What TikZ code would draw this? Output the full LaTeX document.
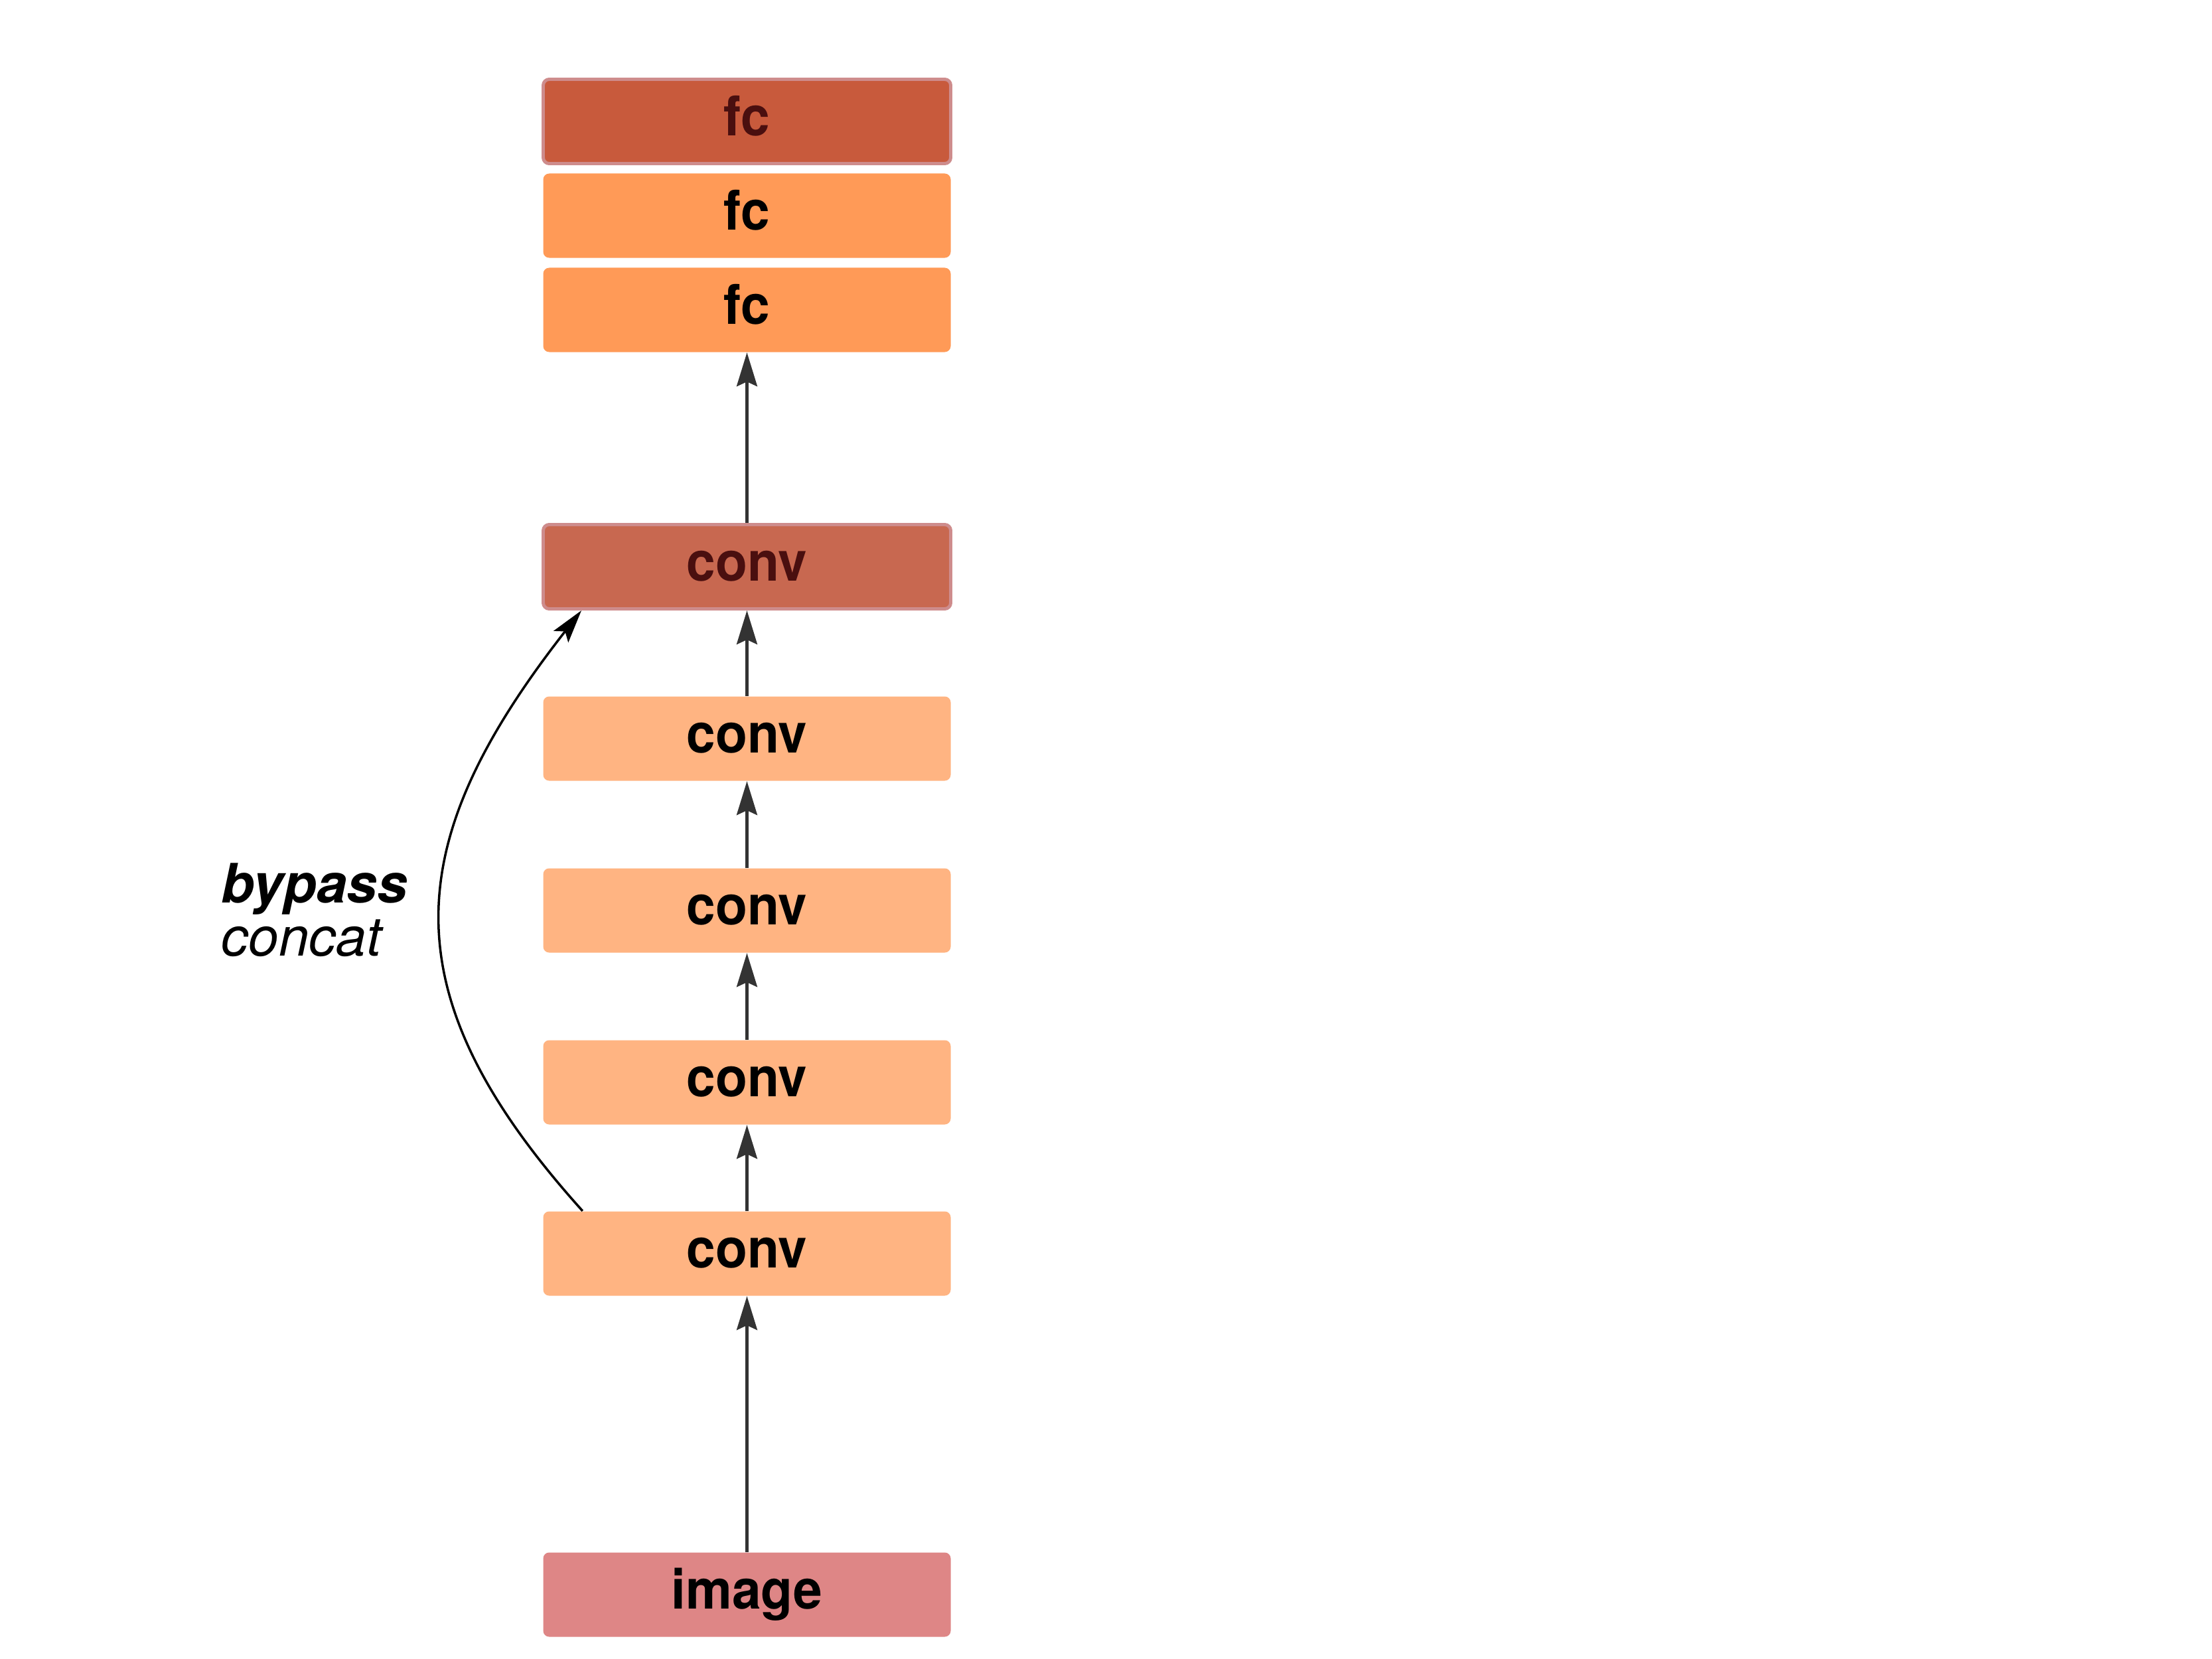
\documentclass[tikz,border=0pt]{standalone}
\usepackage{fontspec}
\setmainfont{TeX Gyre Heros}
\newfontfamily\layerfont[FakeStretch=0.95]{TeX Gyre Heros}
\usetikzlibrary{arrows.meta}

\definecolor{fctop}{HTML}{C85A3C}
\definecolor{fcmid}{HTML}{FF9A57}
\definecolor{convtop}{HTML}{C86850}
\definecolor{convmid}{HTML}{FFB482}
\definecolor{imagein}{HTML}{DE8686}
\definecolor{topborder}{HTML}{CE8C8C}
\definecolor{toptext}{HTML}{4A0F0F}
\definecolor{flowgray}{HTML}{333333}

\begin{document}
\begin{tikzpicture}[
    layer/.style={rectangle, rounded corners=0.09cm, minimum width=6.14cm, minimum height=1.27cm,
        inner sep=0pt, text height=0.43cm, text depth=0cm,
        font={\layerfont\fontsize{23.5}{27}\bfseries}},
    toplayer/.style={layer, draw=topborder, line width=1.4pt, text=toptext},
    fclayer/.style={layer, fill=fcmid},
    convlayer/.style={layer, fill=convmid},
    inputlayer/.style={layer, fill=imagein},
    flow/.style={-{Stealth[length=0.51cm, width=0.31cm, inset=0.07cm]}, line width=1.2pt, flowgray},
    skip/.style={-{Stealth[length=0.5cm, width=0.28cm, inset=0.1cm]}, line width=1pt, black},
    note/.style={align=left, inner sep=0pt, font={\fontsize{23.3}{22.6}\selectfont\itshape}}
]
\useasboundingbox (0,0) rectangle (33.33,-25);

% Fully connected layers
\node[toplayer, fill=fctop] (fc3) at (11.255,-1.83) {fc};
\node[fclayer] (fc2) at (11.255,-3.25) {fc};
\node[fclayer] (fc1) at (11.255,-4.67) {fc};

% Convolution layers
\node[toplayer, fill=convtop] (conv5) at (11.255,-8.54) {conv};
\node[convlayer] (conv4) at (11.255,-11.13) {conv};
\node[convlayer] (conv3) at (11.255,-13.72) {conv};
\node[convlayer] (conv2) at (11.255,-16.31) {conv};
\node[convlayer] (conv1) at (11.255,-18.89) {conv};

% Input
\node[inputlayer] (image) at (11.255,-24.03) {image};

% Forward flow
\draw[flow] (image) -- (conv1);
\draw[flow] (conv1) -- (conv2);
\draw[flow] (conv2) -- (conv3);
\draw[flow] (conv3) -- (conv4);
\draw[flow] (conv4) -- (conv5);
\draw[flow] (conv5) -- (fc1);

% Bypass
\draw[skip] ([xshift=0.6cm]conv1.north west) to[out=132, in=-128, looseness=1.25] ([xshift=0.6cm]conv5.south west);
\node[note, anchor=base west] (bypasslabel) at (3.33,-14.40) {\textbf{bypass}\\concat};

\end{tikzpicture}
\end{document}
